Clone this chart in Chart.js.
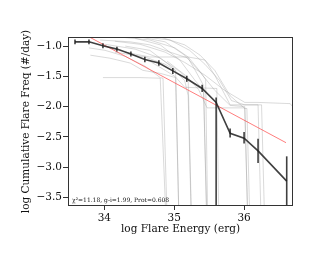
<!DOCTYPE html>
<html>
<head>
<meta charset="utf-8">
<script src="https://cdn.jsdelivr.net/npm/chart.js@4.4.1/dist/chart.umd.min.js"></script>
<style>
  html, body { margin: 0; padding: 0; background: #fff; }
  #wrap { width: 318px; height: 258px; }
</style>
</head>
<body>
<div id="wrap"><canvas id="ffd"></canvas></div>
<script>
// mean cumulative FFD with error bars
const energyBins = [33.58, 33.78, 33.98, 34.18, 34.38, 34.58, 34.78, 34.98, 35.18, 35.40, 35.60, 35.80, 36.00, 36.20, 36.61];
const logFreq    = [-0.93, -0.93, -0.995, -1.05, -1.13, -1.22, -1.28, -1.41, -1.54, -1.70, -1.93, -2.44, -2.52, -2.73, -3.23];
const errLow     = [0.04, 0.04, 0.04, 0.04, 0.04, 0.045, 0.045, 0.05, 0.05, 0.06, 3.5, 0.07, 0.09, 0.2, 3.0];
const errHigh    = [0.04, 0.04, 0.04, 0.04, 0.04, 0.045, 0.045, 0.05, 0.05, 0.06, 0.08, 0.08, 0.1, 0.2, 0.41];

// power law fit
const fitX = [33.6, 36.6];
const fitY = [-0.735, -2.595];

// individual FFDs (light grey)
const trialCurves = [
  [[33.78,-1.03],[34.01,-1.07],[34.30,-1.17],[34.58,-1.33],[34.80,-1.52],[34.84,-1.53],[34.94,-5.5]],
  [[33.98,-1.52],[34.51,-1.52],[34.80,-1.53],[34.94,-5.5]],
  [[33.80,-1.15],[34.08,-1.20],[34.37,-1.28],[34.55,-1.40],[34.80,-1.45],[35.02,-1.52],[35.10,-5.5]],
  [[33.94,-0.90],[34.37,-0.93],[34.65,-0.98],[34.94,-1.10],[35.20,-1.20],[35.30,-1.40],[35.42,-1.65],[35.50,-5.5]],
  [[34.22,-0.85],[34.65,-0.90],[35.01,-1.03],[35.20,-1.18],[35.44,-1.23],[35.58,-1.48],[35.80,-1.97],[36.20,-1.97],[36.28,-5.5]],
  [[34.51,-0.85],[34.87,-0.93],[35.15,-1.15],[35.37,-1.43],[35.58,-1.73],[35.80,-1.98],[36.01,-2.00],[36.09,-5.5]],
  [[34.15,-1.10],[34.58,-1.18],[34.87,-1.30],[35.02,-1.40],[35.10,-5.5]],
  [[34.30,-1.00],[34.65,-1.07],[34.94,-1.32],[35.15,-1.57],[35.20,-1.82],[35.28,-5.5]],
  [[34.44,-0.87],[34.80,-0.98],[35.08,-1.23],[35.30,-1.57],[35.42,-1.73],[35.50,-5.5]],
  [[34.15,-0.92],[34.51,-0.97],[34.87,-1.10],[35.15,-1.27],[35.44,-1.48],[35.72,-1.73],[36.01,-1.93],[36.20,-1.93],[36.66,-1.95],[36.80,-2.15],[36.95,-2.40]],
  [[34.58,-0.85],[34.94,-0.90],[35.22,-1.07],[35.44,-1.30],[35.65,-1.57],[35.82,-1.90],[36.01,-1.97],[36.25,-1.97],[36.33,-5.5]],
  [[34.80,-0.85],[35.15,-0.98],[35.37,-1.15],[35.58,-1.40],[35.80,-1.82],[36.01,-2.03],[36.04,-2.03],[36.12,-5.5]],
  [[34.65,-1.25],[34.87,-1.40],[35.01,-1.50],[35.15,-1.68],[35.61,-1.70],[35.66,-5.5]],
  [[34.90,-1.25],[35.18,-1.50],[35.35,-1.72],[35.47,-2.02],[36.01,-2.02],[36.09,-5.5]],
  [[34.01,-0.97],[34.44,-1.05],[34.80,-1.20],[35.08,-1.42],[35.20,-1.55],[35.28,-5.5]],
  [[34.30,-1.10],[34.65,-1.18],[35.20,-1.18],[35.37,-1.42],[35.45,-1.55],[35.50,-5.5]]
];

const xTicks = [34, 35, 36];
const yTicks = [-1.0, -1.5, -2.0, -2.5, -3.0, -3.5];
const note = 'χ²=11.18, g-i=1.99, Prot=0.608';

const serif = 'DejaVu Serif';

const datasets = trialCurves.map(c => ({
    data: c.map(p => ({ x: p[0], y: p[1] })),
    showLine: true,
    borderColor: 'rgba(150,150,150,0.45)',
    borderWidth: 0.8,
    pointRadius: 0,
    order: 3
}));

datasets.push({
    data: fitX.map((x, i) => ({ x: x, y: fitY[i] })),
    showLine: true,
    borderColor: 'rgba(255,70,70,0.7)',
    borderWidth: 1,
    pointRadius: 0,
    order: 2
});

datasets.push({
    data: energyBins.map((x, i) => ({ x: x, y: logFreq[i] })),
    showLine: true,
    borderColor: 'rgba(30,30,30,0.85)',
    borderWidth: 1.6,
    pointRadius: 0,
    order: 1
});

const errorBars = {
    id: 'errorBars',
    afterDatasetsDraw(chart) {
        const { ctx, chartArea: a, scales: { x, y } } = chart;
        ctx.save();
        ctx.beginPath();
        ctx.rect(a.left, a.top, a.right - a.left, a.bottom - a.top);
        ctx.clip();
        ctx.strokeStyle = 'rgba(30,30,30,0.85)';
        ctx.lineWidth = 1.6;
        energyBins.forEach((e, i) => {
            const px = x.getPixelForValue(e);
            ctx.beginPath();
            ctx.moveTo(px, y.getPixelForValue(logFreq[i] - errLow[i]));
            ctx.lineTo(px, y.getPixelForValue(logFreq[i] + errHigh[i]));
            ctx.stroke();
        });
        ctx.restore();
    },
    afterDraw(chart) {
        const { ctx, chartArea: a } = chart;
        ctx.save();
        ctx.strokeStyle = '#333';
        ctx.lineWidth = 1;
        ctx.strokeRect(a.left + 0.5, a.top + 0.5, a.right - a.left - 1, a.bottom - a.top - 1);
        ctx.fillStyle = '#111';
        ctx.font = '6px "' + serif + '"';
        ctx.textBaseline = 'middle';
        ctx.fillText(note, a.left + 4, a.bottom - 6);
        ctx.restore();
    }
};

new Chart(document.getElementById('ffd'), {
    type: 'scatter',
    data: { datasets: datasets },
    options: {
        responsive: true,
        maintainAspectRatio: false,
        animation: false,
        layout: { padding: { top: 37, right: 25, left: 0, bottom: 0 } },
        plugins: { legend: { display: false }, tooltip: { enabled: false } },
        scales: {
            x: {
                type: 'linear',
                min: 33.48,
                max: 36.70,
                afterBuildTicks: s => { s.ticks = xTicks.map(v => ({ value: v })); },
                afterFit: s => { s.height = 52; },
                border: { display: false },
                grid: { drawOnChartArea: false, tickLength: 4, color: '#333' },
                ticks: {
                    color: '#111',
                    padding: 2,
                    font: { family: serif, size: 10.5 },
                    callback: v => String(v)
                },
                title: {
                    display: true,
                    text: 'log Flare Energy (erg)',
                    color: '#111',
                    font: { family: serif, size: 10.5 },
                    padding: { top: 0, bottom: 22 }
                }
            },
            y: {
                type: 'linear',
                min: -3.64,
                max: -0.85,
                afterBuildTicks: s => { s.ticks = yTicks.map(v => ({ value: v })); },
                afterFit: s => { s.width = 68; },
                border: { display: false },
                grid: { drawOnChartArea: false, tickLength: 5, color: '#333' },
                ticks: {
                    color: '#111',
                    padding: 1,
                    font: { family: serif, size: 10.5 },
                    callback: v => (v < 0 ? '\u2212' : '') + Math.abs(v).toFixed(1)
                },
                title: {
                    display: true,
                    text: 'log Cumulative Flare Freq (#/day)',
                    color: '#111',
                    font: { family: serif, size: 10.5 },
                    padding: { top: 20, bottom: 0 }
                }
            }
        }
    },
    plugins: [errorBars]
});
</script>
</body>
</html>
